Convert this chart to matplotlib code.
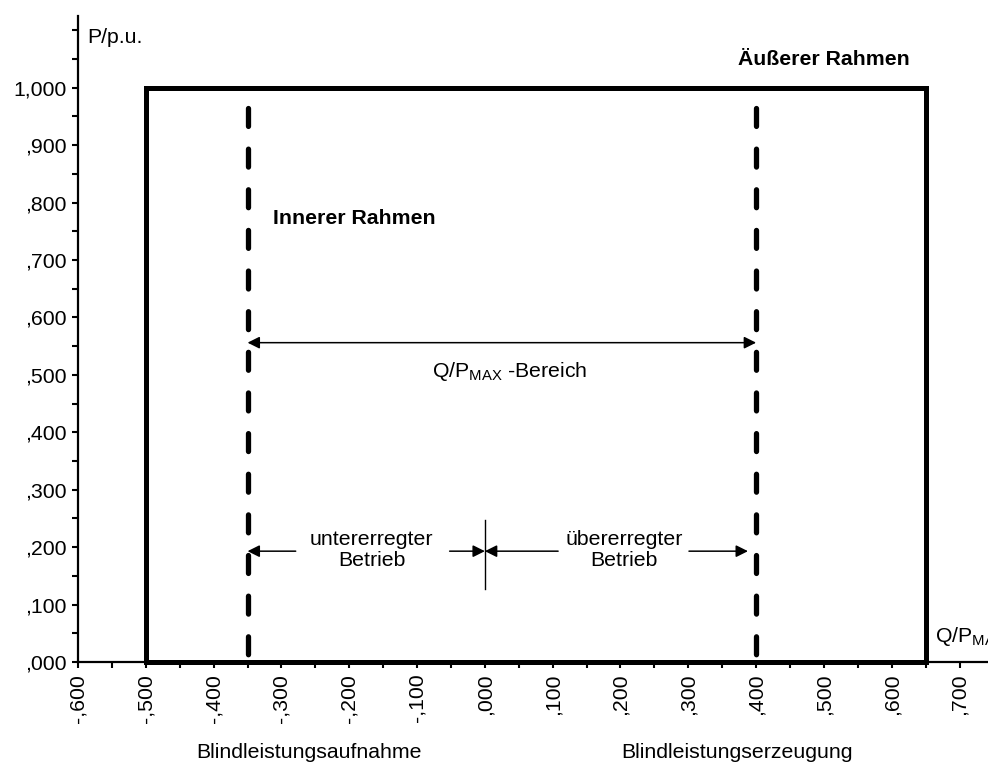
import matplotlib.pyplot as plt
import numpy as np

plt.rcParams['font.family'] = ['Liberation Sans', 'DejaVu Sans']
plt.rcParams['mathtext.default'] = 'regular'

# outer frame (Äußerer Rahmen)
outer_q = [-0.50, -0.50, 0.65, 0.65, -0.50]
outer_p = [0.0, 1.0, 1.0, 0.0, 0.0]

# inner frame (Innerer Rahmen), dashed limits
inner_q = [-0.35, 0.40]
inner_top = 0.965

# arrows: (start, end) in Q, at height P
range_arrow = (-0.35, 0.40, 0.556)
under_arrows = [(-0.279, -0.35), (-0.052, 0.0)]
over_arrows = [(0.108, 0.0), (0.301, 0.388)]
arrow_p = 0.193
divider_q = 0.0
divider_p = (0.127, 0.247)

xticks = np.arange(-0.6, 0.71, 0.1)
yticks = np.arange(0.0, 1.01, 0.1)


def de_fmt(v):
    s = f"{abs(v):.3f}".replace('.', ',')
    if s.startswith('0'):
        s = s[1:]
    return ('-' if v < -1e-9 else '') + s


fig = plt.figure(figsize=(9.88, 7.62), dpi=100)
ax = fig.add_axes([0.079, 0.1312, 0.921, 0.848])

ax.plot(outer_q, outer_p, color='black', lw=3.6, solid_joinstyle='miter', clip_on=False, zorder=3)
for q in inner_q:
    ax.plot([q, q], [inner_top, 0.0], color='black', lw=3.8,
            linestyle=(0, (3.4, 4.3)), dash_capstyle='round', clip_on=False, zorder=3)

# Q/P_MAX range
ap = dict(arrowstyle='<|-|>', color='black', lw=1.1, mutation_scale=18, shrinkA=0, shrinkB=0)
ax.annotate('', xy=(range_arrow[1], range_arrow[2]), xytext=(range_arrow[0], range_arrow[2]), arrowprops=ap)

ap1 = dict(arrowstyle='-|>', color='black', lw=1.1, mutation_scale=18, shrinkA=0, shrinkB=0)
for a, b in under_arrows + over_arrows:
    ax.annotate('', xy=(b, arrow_p), xytext=(a, arrow_p), arrowprops=ap1)
ax.plot([divider_q, divider_q], divider_p, color='black', lw=1.0)

fs = 15.3
ax.text(-0.587, 1.087, 'P/p.u.', fontsize=fs, ha='left', va='center')
ax.text(0.500, 1.049, 'Äußerer Rahmen', fontsize=fs, fontweight='bold', ha='center', va='center')
ax.text(-0.313, 0.773, 'Innerer Rahmen', fontsize=fs, fontweight='bold', ha='left', va='center')
ax.text(0.037, 0.505, r'Q/P$_{MAX}$ -Bereich', fontsize=fs, ha='center', va='center')
ax.text(-0.167, 0.195, 'untererregter\nBetrieb', fontsize=fs, ha='center', va='center', linespacing=1.15)
ax.text(0.205, 0.195, 'übererregter\nBetrieb', fontsize=fs, ha='center', va='center', linespacing=1.15)
ax.text(0.664, 0.045, r'Q/P$_{MAX}$', fontsize=fs, ha='left', va='center', clip_on=False)
ax.text(-0.26, -0.157, 'Blindleistungsaufnahme', fontsize=fs, ha='center', va='center', clip_on=False)
ax.text(0.372, -0.157, 'Blindleistungserzeugung', fontsize=fs, ha='center', va='center', clip_on=False)

ax.set_xlim(-0.6, 0.742)
ax.set_ylim(0, 1.125)
ax.spines['top'].set_visible(False)
ax.spines['right'].set_visible(False)
ax.spines['left'].set_linewidth(1.6)
ax.spines['bottom'].set_linewidth(1.6)

ax.set_xticks(xticks)
ax.set_xticklabels([de_fmt(v) for v in xticks], rotation=90, fontsize=fs)
ax.set_xticks(np.arange(-0.55, 0.74, 0.1), minor=True)
ax.set_yticks(yticks)
ax.set_yticklabels([de_fmt(v) for v in yticks], fontsize=fs)
ax.set_yticks(np.arange(0.05, 1.11, 0.1).tolist() + [1.1], minor=True)
ax.tick_params(which='both', direction='out', length=4.5, width=1.5, color='black')
ax.tick_params(axis='x', pad=4)
ax.tick_params(axis='y', pad=4)

fig.savefig('out.png', dpi=100)
